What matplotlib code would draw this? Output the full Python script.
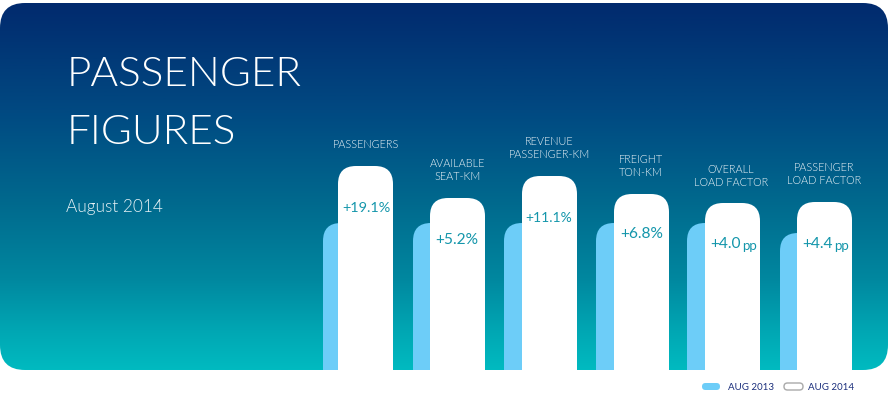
import numpy as np
import matplotlib
matplotlib.use('Agg')
import matplotlib.pyplot as plt
from matplotlib.path import Path
from matplotlib.patches import PathPatch, FancyBboxPatch
from matplotlib.colors import LinearSegmentedColormap

# categories and values (bar heights, in px above the baseline)
categories = ['PASSENGERS', 'AVAILABLE\nSEAT-KM', 'REVENUE\nPASSENGER-KM',
              'FREIGHT\nTON-KM', 'OVERALL\nLOAD FACTOR', 'PASSENGER\nLOAD FACTOR']
aug_2013 = [147, 147, 147, 147, 147, 137]
aug_2014 = [204, 172, 194, 176, 167, 168]
changes = ['+19.1%', '+5.2%', '+11.1%', '+6.8%', '+4.0', '+4.4']
units = ['', '', '', '', 'pp', 'pp']
legend_labels = ['AUG 2013', 'AUG 2014']

# layout
x_2014 = [338, 430, 522, 614, 705, 797]
x_2013 = [323, 413, 504, 596, 687, 780]
label_x = [366, 457.5, 549, 641, 731, 824]
label_y = [225, 200, 222, 204, 194, 196]
change_x = [366.5, 457, 549, 641.5, 741, 833]
change_y = [161.5, 129.5, 152.5, 135.5, 125.5, 125.5]
change_size = [10.4, 11.2, 10, 11.2, 11.2, 11.2]
FONT = 'Lato'
LIGHT = 300
TEAL = '#1496ab'

plt.rcParams['font.family'] = [FONT, 'DejaVu Sans']

fig = plt.figure(figsize=(8.88, 4.01), dpi=100, facecolor='white')
ax = fig.add_axes([0, 0, 1, 1])

# gradient panel
cmap = LinearSegmentedColormap.from_list('panel', [
    (0.00, '#012a6e'), (0.30, '#014a82'), (0.55, '#006a8e'),
    (0.75, '#00879f'), (0.90, '#00a8b4'), (1.00, '#00bac0')])
grad = np.linspace(0, 1, 256).reshape(-1, 1)
im = ax.imshow(grad, cmap=cmap, extent=(0, 888, 0, 367), aspect='auto', zorder=1)
ax.set_xlim(0, 888)
ax.set_ylim(-31, 370)
ax.axis('off')
panel = FancyBboxPatch((0, 0), 888, 367, boxstyle='round,pad=0,rounding_size=25',
                       transform=ax.transData, facecolor='none', edgecolor='none')
ax.add_patch(panel)
im.set_clip_path(panel)


def top_round_bar(x, width, height, radius, color, zorder):
    r = radius
    verts = [(x, 0), (x, height - r), (x, height), (x + r, height),
             (x + width - r, height), (x + width, height), (x + width, height - r),
             (x + width, 0), (x, 0)]
    codes = [Path.MOVETO, Path.LINETO, Path.CURVE3, Path.CURVE3, Path.LINETO,
             Path.CURVE3, Path.CURVE3, Path.LINETO, Path.CLOSEPOLY]
    ax.add_patch(PathPatch(Path(verts, codes), facecolor=color, edgecolor='none', zorder=zorder))


for i in range(len(categories)):
    top_round_bar(x_2013[i], 40, aug_2013[i], 18, '#6dcdf8', 2)
    top_round_bar(x_2014[i], 55, aug_2014[i], 18, 'white', 3)
    ax.text(label_x[i], label_y[i], categories[i], color='#eef4f8', fontsize=7.8,
            ha='center', va='center', linespacing=1.2, weight=LIGHT, zorder=4)
    if units[i]:
        ax.text(change_x[i], change_y[i], changes[i], color=TEAL, fontsize=change_size[i],
                ha='right', va='center', weight='normal', zorder=4)
        ax.text(change_x[i] + 1, change_y[i] - 1, units[i], color=TEAL, fontsize=9.5,
                ha='left', va='center', weight='normal', zorder=4)
    else:
        ax.text(change_x[i], change_y[i], changes[i], color=TEAL, fontsize=change_size[i],
                ha='center', va='center', weight='normal', zorder=4)

# heading
ax.text(67, 295, 'PASSENGER', color='white', fontsize=30.5, ha='left', va='center', weight=LIGHT, zorder=4)
ax.text(67, 238, 'FIGURES', color='white', fontsize=30.5, ha='left', va='center', weight=LIGHT, zorder=4)
ax.text(66, 163, 'August 2014', color='#e8f2f6', fontsize=12.4, ha='left', va='center', weight=LIGHT, zorder=4)

# legend
ax.add_patch(FancyBboxPatch((702, -20), 18, 7, boxstyle='round,pad=0,rounding_size=3.5',
                            facecolor='#6dcdf8', edgecolor='none', zorder=4))
ax.add_patch(FancyBboxPatch((784, -20), 19, 7, boxstyle='round,pad=0,rounding_size=3.5',
                            facecolor='white', edgecolor='#a9a9a9', linewidth=1, zorder=4))
ax.text(728, -17, legend_labels[0], color='#1b2f7c', fontsize=7, ha='left', va='center', zorder=4)
ax.text(808, -17, legend_labels[1], color='#1b2f7c', fontsize=7, ha='left', va='center', zorder=4)

fig.savefig('out.png', dpi=100)
